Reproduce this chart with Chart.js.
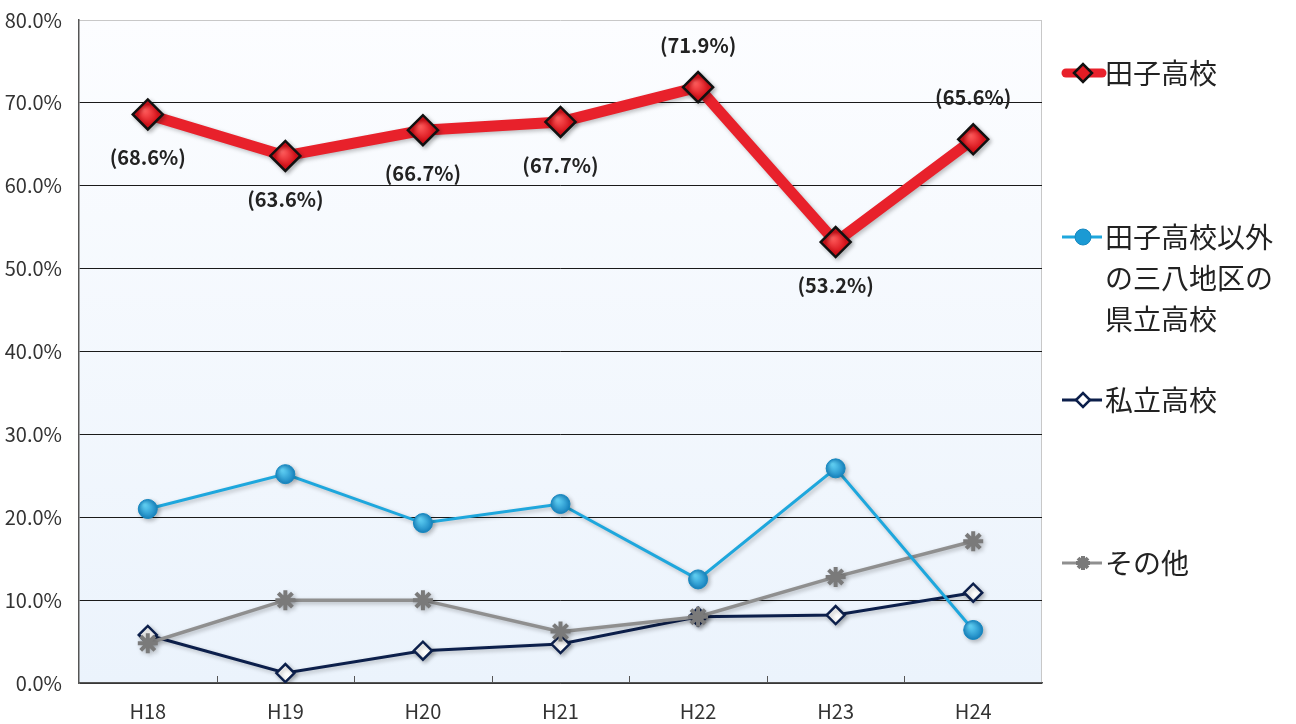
<!DOCTYPE html>
<html>
<head>
<meta charset="utf-8">
<script src="https://cdn.jsdelivr.net/npm/chart.js@4.4.1/dist/chart.umd.min.js"></script>
<style>
  html, body { margin: 0; padding: 0; background: #fff; }
  #wrap { width: 1296px; height: 724px; position: relative; }
</style>
</head>
<body>
<div id="wrap"><canvas id="lineChart" width="1296" height="724"></canvas></div>
<script>
const years = ["H18", "H19", "H20", "H21", "H22", "H23", "H24"];
const tagoHigh = [68.6, 63.6, 66.7, 67.7, 71.9, 53.2, 65.6];
const otherPrefHigh = [21.0, 25.2, 19.3, 21.6, 12.5, 25.9, 6.4];
const privateHigh = [5.8, 1.2, 3.9, 4.7, 8.0, 8.2, 10.9];
const others = [4.8, 10.0, 10.0, 6.2, 8.0, 12.8, 17.1];
const labelSide = ["below", "below", "below", "below", "above", "below", "above"];

const FONT = "'Noto Sans CJK JP', 'Noto Sans', sans-serif";

// 球っぽいマーカー
function sphereFill(light, dark) {
  return c => {
    const chart = c.chart;
    if (!chart.scales.x || c.dataIndex === undefined) return dark;
    const px = chart.scales.x.getPixelForValue(c.dataIndex);
    const py = chart.scales.y.getPixelForValue(c.raw);
    if (!isFinite(px) || !isFinite(py)) return dark;
    const g = chart.ctx.createRadialGradient(px - 3, py - 4, 1, px, py, 10);
    g.addColorStop(0, light);
    g.addColorStop(1, dark);
    return g;
  };
}

// 背景のグラデーション
const plotBg = {
  id: "plotBg",
  beforeDraw(chart) {
    const { ctx, chartArea: a } = chart;
    const g = ctx.createLinearGradient(0, a.top, 0, a.bottom);
    g.addColorStop(0, "#fcfdff");
    g.addColorStop(1, "#ebf3fc");
    ctx.save();
    ctx.fillStyle = g;
    ctx.fillRect(a.left, a.top, a.right - a.left, a.bottom - a.top);
    ctx.strokeStyle = "#c8c8c8";
    ctx.lineWidth = 1;
    ctx.beginPath();
    ctx.moveTo(a.left, a.top + 0.5);
    ctx.lineTo(a.right, a.top + 0.5);
    ctx.moveTo(a.right - 0.5, a.top);
    ctx.lineTo(a.right - 0.5, a.bottom);
    ctx.stroke();
    ctx.restore();
  },
  afterDraw(chart) {
    // x軸の目盛り（内側）
    const { ctx, chartArea: a, scales } = chart;
    const x = scales.x;
    const step = (a.right - a.left) / years.length;
    ctx.save();
    ctx.strokeStyle = "#555";
    ctx.lineWidth = 1;
    ctx.beginPath();
    for (let i = 1; i < years.length; i++) {
      const px = Math.round(x.getPixelForValue(i) - step / 2) + 0.5;
      ctx.moveTo(px, a.bottom);
      ctx.lineTo(px, a.bottom - 7);
    }
    ctx.stroke();
    ctx.restore();
  }
};

// マーカーの影
const markerShadow = {
  id: "markerShadow",
  beforeDatasetDraw(chart) {
    const ctx = chart.ctx;
    ctx.save();
    ctx.shadowColor = "rgba(0,0,0,0.25)";
    ctx.shadowBlur = 4;
    ctx.shadowOffsetX = 2;
    ctx.shadowOffsetY = 2;
  },
  afterDatasetDraw(chart) {
    chart.ctx.restore();
  }
};

// 田子高校の数値ラベル
const valueLabels = {
  id: "valueLabels",
  afterDatasetsDraw(chart) {
    const { ctx } = chart;
    const meta = chart.getDatasetMeta(0);
    ctx.save();
    ctx.font = "bold 20px " + FONT;
    ctx.fillStyle = "#222";
    ctx.textAlign = "center";
    ctx.textBaseline = "middle";
    meta.data.forEach((pt, i) => {
      const dy = labelSide[i] === "above" ? -42 : 43;
      ctx.fillText("(" + tagoHigh[i].toFixed(1) + "%)", pt.x, pt.y + dy);
    });
    ctx.restore();
  }
};

// 右側の凡例
const sideLegend = {
  id: "sideLegend",
  afterDraw(chart) {
    const { ctx } = chart;
    const items = [
      { ds: 0, y: 73, lines: ["田子高校"], fill: "#e31c24" },
      { ds: 1, y: 237, lines: ["田子高校以外", "の三八地区の", "県立高校"], fill: "#1b9ad4" },
      { ds: 2, y: 400, lines: ["私立高校"], fill: "#ffffff" },
      { ds: 3, y: 563, lines: ["その他"], fill: "#808080" }
    ];
    items.forEach(it => {
      const d = chart.data.datasets[it.ds];
      ctx.save();
      ctx.strokeStyle = d.borderColor;
      ctx.lineWidth = it.ds === 0 ? 9 : 3;
      ctx.lineCap = it.ds === 0 ? "round" : "butt";
      ctx.beginPath();
      ctx.moveTo(it.ds === 0 ? 1066 : 1062, it.y);
      ctx.lineTo(1102, it.y);
      ctx.stroke();
      ctx.fillStyle = it.fill;
      ctx.strokeStyle = d.pointBorderColor;
      ctx.lineWidth = d.pointBorderWidth;
      Chart.helpers.drawPoint(ctx, {
        pointStyle: d.pointStyle,
        radius: it.ds === 0 ? 9 : it.ds === 1 ? 8 : 7,
        borderWidth: d.pointBorderWidth
      }, 1083, it.y);
      ctx.fillStyle = "#222";
      ctx.font = "28px " + FONT;
      ctx.textAlign = "left";
      ctx.textBaseline = "middle";
      it.lines.forEach((t, k) => ctx.fillText(t, 1105, it.y + k * 41));
      ctx.restore();
    });
  }
};

new Chart(document.getElementById("lineChart").getContext("2d"), {
  type: "line",
  data: {
    labels: years,
    datasets: [
      {
        label: "田子高校",
        data: tagoHigh,
        borderColor: "#e8212b",
        borderWidth: 11,
        pointStyle: "rectRot",
        pointRadius: 15,
        pointBackgroundColor: sphereFill("#ff5a5a", "#d8141c"),
        pointBorderColor: "#111",
        pointBorderWidth: 2.5,
        order: 1
      },
      {
        label: "田子高校以外の三八地区の県立高校",
        data: otherPrefHigh,
        borderColor: "#1ea7dd",
        borderWidth: 3,
        pointStyle: "circle",
        pointRadius: 9.5,
        pointBackgroundColor: sphereFill("#5fd0f5", "#1580bd"),
        pointBorderColor: "#1688c0",
        pointBorderWidth: 1,
        order: 2
      },
      {
        label: "私立高校",
        data: privateHigh,
        borderColor: "#0c1f4b",
        borderWidth: 3,
        pointStyle: "rectRot",
        pointRadius: 9,
        pointBackgroundColor: "#ffffff",
        pointBorderColor: "#0c1f4b",
        pointBorderWidth: 2.5,
        order: 4
      },
      {
        label: "その他",
        data: others,
        borderColor: "#8f8f8f",
        borderWidth: 3.5,
        pointStyle: "star",
        pointRadius: 10,
        pointBackgroundColor: "#7a7a7a",
        pointBorderColor: "#7a7a7a",
        pointBorderWidth: 4,
        order: 3
      }
    ]
  },
  options: {
    responsive: false,
    animation: false,
    tension: 0,
    layout: { autoPadding: false, padding: { left: 0, top: 20, right: 254, bottom: 0 } },
    plugins: {
      legend: { display: false },
      tooltip: { enabled: false }
    },
    scales: {
      x: {
        offset: true,
        afterFit(scale) { scale.height = 41; },
        grid: { display: false, drawTicks: false },
        border: { color: "#555", width: 1.5 },
        ticks: { color: "#333", font: { size: 20, family: FONT }, padding: 16 }
      },
      y: {
        min: 0,
        max: 80,
        afterFit(scale) {
          scale.width = 79;
          scale.paddingTop = 0;
          scale.paddingBottom = 0;
        },
        grid: {
          color: ctx => (ctx.tick && ctx.tick.value === 80 ? "rgba(0,0,0,0)" : "#1a1a1a"),
          lineWidth: 1,
          drawTicks: false
        },
        border: { color: "#555", width: 1.5 },
        ticks: {
          stepSize: 10,
          color: "#333",
          padding: 17,
          font: { size: 20, family: FONT },
          callback: v => v.toFixed(1) + "%"
        }
      }
    }
  },
  plugins: [plotBg, markerShadow, valueLabels, sideLegend]
});
</script>
</body>
</html>
